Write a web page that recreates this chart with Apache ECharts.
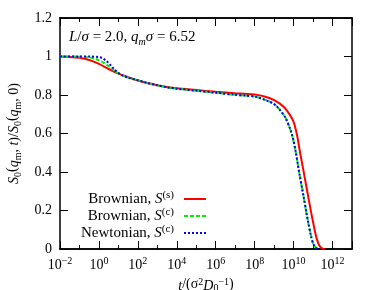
<!DOCTYPE html>
<html><head><meta charset="utf-8">
<script src="https://cdn.jsdelivr.net/npm/echarts@6/dist/echarts.min.js"></script>
<style>html,body{margin:0;padding:0;background:#fff}#c{width:380px;height:290px}</style>
</head><body><div id="c"></div>
<script>
// log10(t) and S values
const redLogT = [-2,-1.5,-1,-0.5,0,0.5,1,1.5,2,2.5,3,3.5,4,5,6,7,7.5,8,8.5,9,9.5,9.8,10,10.1,10.2,10.3,10.4,10.5,10.6,10.7,10.8,10.9,11,11.1,11.2,11.3,11.4,11.5,11.6];
const redS    = [1.0,0.998,0.993,0.982,0.962,0.935,0.911,0.893,0.875,0.862,0.851,0.842,0.835,0.826,0.817,0.809,0.806,0.802,0.792,0.773,0.738,0.698,0.66,0.625,0.58,0.52,0.465,0.41,0.355,0.30,0.245,0.19,0.14,0.09,0.05,0.022,0.008,0.002,0];
const grnLogT = [-2,-1,-0.5,-0.2,0,0.2,0.5,0.8,1,1.2,1.5,2,2.5,3,3.5,4,5,6,7,7.5,8,8.5,9,9.3,9.6,9.9,10.1,10.3,10.5,10.7,10.9,11,11.1,11.2,11.3];
const grnS    = [1.0,0.999,0.995,0.988,0.98,0.97,0.95,0.925,0.912,0.902,0.89,0.877,0.862,0.851,0.84,0.833,0.822,0.812,0.801,0.797,0.792,0.776,0.753,0.722,0.678,0.60,0.51,0.39,0.28,0.165,0.065,0.03,0.012,0.003,0];
const bluLogT = [-2,-1,-0.5,0,0.2,0.4,0.6,0.8,1,1.2,1.5,2,2.5,3,3.5,4,5,6,7,7.5,8,8.5,9,9.3,9.6,9.9,10.1,10.3,10.5,10.7,10.9,11,11.1,11.2,11.3];
const bluS    = [1.0,1.0,1.0,0.997,0.99,0.975,0.955,0.933,0.915,0.902,0.89,0.877,0.862,0.851,0.84,0.833,0.822,0.812,0.801,0.797,0.792,0.776,0.753,0.722,0.678,0.60,0.51,0.39,0.28,0.165,0.065,0.03,0.012,0.003,0];
const xTickExp = [-2,0,2,4,6,8,10,12];
const yTicks = [0,0.2,0.4,0.6,0.8,1,1.2];
const seriesNames = ['Brownian, S(s)','Brownian, S(c)','Newtonian, S(c)'];

const FF = '"Liberation Serif", serif';
const zip = (a,b)=>a.map((v,i)=>[v,b[i]]);
const supRich = {
  b:{fontFamily:FF,fontSize:14,color:'#000',verticalAlign:'bottom',lineHeight:18},
  s:{fontFamily:FF,fontSize:10,color:'#000',verticalAlign:'bottom',lineHeight:18,padding:[0,0,6,0]}
};
const axLine = {show:true,onZero:false,lineStyle:{color:'#000',width:1.5}};
function xAx(pos, interval, len, labels){
  return {type:'value',position:pos,min:-2,max:13,interval:interval,
    axisLine:axLine,splitLine:{show:false},
    axisTick:{show:true,inside:true,length:len,lineStyle:{color:'#000',width:1}},
    axisLabel:{show:labels,margin:5,
      formatter:v=> xTickExp.indexOf(v)>=0 ? '{b|10}{s|'+(v<0?'\u2212'+(-v):v)+'}' : '',
      rich:supRich}};
}
const xa0 = xAx('bottom',2,8,true);
xa0.name = '{i|t}/(\u03c3{s|2}{i|D}{d|0}{s|\u22121})';
xa0.nameLocation='middle'; xa0.nameGap=21;
xa0.nameTextStyle={fontFamily:FF,fontSize:14,color:'#000',rich:{
  i:{fontFamily:FF,fontSize:14,fontStyle:'italic',color:'#000',verticalAlign:'bottom',lineHeight:18},
  s:{fontFamily:FF,fontSize:10,color:'#000',verticalAlign:'bottom',lineHeight:18,padding:[0,0,6,0]},
  d:{fontFamily:FF,fontSize:10,color:'#000',verticalAlign:'bottom',lineHeight:18,padding:[0,0,0,0]}
}};
function mkSub(fs){
  return {
  i:{fontFamily:FF,fontSize:fs,fontStyle:'italic',fontWeight:'normal',color:'#000',verticalAlign:'bottom',lineHeight:18},
  r:{fontFamily:FF,fontSize:fs,fontWeight:'normal',color:'#000',verticalAlign:'bottom',lineHeight:18},
  d:{fontFamily:FF,fontSize:10,fontWeight:'normal',color:'#000',verticalAlign:'bottom',lineHeight:18,padding:[0,0,-2,0]},
  di:{fontFamily:FF,fontSize:10,fontStyle:'italic',fontWeight:'normal',color:'#000',verticalAlign:'bottom',lineHeight:18,padding:[0,0,-2,0]},
  s:{fontFamily:FF,fontSize:10,fontWeight:'normal',color:'#000',verticalAlign:'bottom',lineHeight:18,padding:[0,0,6,0]}
  };
}
function yAx(pos, labels){
  return {type:'value',position:pos,min:0,max:1.2,interval:0.2,
    axisLine:axLine,splitLine:{show:false},
    axisTick:{show:true,inside:true,length:8,lineStyle:{color:'#000',width:1}},
    axisLabel:{show:labels,margin:8,color:'#000',fontFamily:FF,fontSize:14,
      formatter:v=>{const r=Math.round(v*10)/10; return (r===0||r===1)?String(r):r.toFixed(1);}}};
}
const ya0 = yAx('left',true);
ya0.name = '{i|S}{d|0}({i|q}{d|m}{r|, }{i|t}{r|)/}{i|S}{d|0}({i|q}{d|m}{r|, 0)}';
ya0.nameLocation='middle'; ya0.nameGap=34; ya0.nameRotate=90;
ya0.nameTextStyle={fontFamily:FF,fontSize:14,color:'#000',rich:mkSub(14)};

const legRich = {
  r:{fontFamily:FF,fontSize:15,color:'#000',verticalAlign:'bottom',lineHeight:16},
  i:{fontFamily:FF,fontSize:15,fontStyle:'italic',color:'#000',verticalAlign:'bottom',lineHeight:16},
  s:{fontFamily:FF,fontSize:11,color:'#000',verticalAlign:'bottom',lineHeight:16,padding:[0,5,6,0]}
};
function legFmt(name){
  const m = name.match(/^(.*), S\((.)\)$/);
  return '{r|'+m[1]+', }{i|S}{s|('+m[2]+')}';
}
const chart = echarts.init(document.getElementById('c'),null,{renderer:'canvas'});
chart.setOption({
  animation:false,
  backgroundColor:'#fff',
  grid:{left:60,right:28,top:18,bottom:41,containLabel:false,outerBoundsMode:'none'},
  title:{text:'{i|L}{r|/}{i|\u03c3}{r| = 2.0, }{i|q}{di|m}{i|\u03c3}{r| = 6.52}',left:64,top:22,
    textStyle:{fontWeight:'normal',rich:mkSub(15)}},
  legend:{orient:'vertical',align:'right',right:173,top:190,itemWidth:22,itemHeight:14,itemGap:0,
    data:seriesNames,formatter:legFmt,textStyle:{rich:legRich},padding:0,
    itemStyle:{color:'rgba(0,0,0,0)',borderColor:'rgba(0,0,0,0)',borderWidth:0,opacity:0}},
  xAxis:[xa0, xAx('bottom',1,4,false), xAx('top',2,8,false), xAx('top',1,4,false)],
  yAxis:[ya0, yAx('right',false)],
  series:[
    {name:seriesNames[0],type:'line',data:zip(redLogT,redS),showSymbol:false,symbol:'none',smooth:0.3,
      lineStyle:{color:'#ff0000',width:2},itemStyle:{color:'#ff0000'},z:3},
    {name:seriesNames[1],type:'line',data:zip(grnLogT,grnS),showSymbol:false,symbol:'none',smooth:0.3,
      lineStyle:{color:'#00ee00',width:2,type:[4,2]},itemStyle:{color:'#00ee00'},z:4},
    {name:seriesNames[2],type:'line',data:zip(bluLogT,bluS),showSymbol:false,symbol:'none',smooth:0.3,
      lineStyle:{color:'#0000ff',width:2,type:[2,2]},itemStyle:{color:'#0000ff'},z:5}
  ]
});
</script></body></html>
